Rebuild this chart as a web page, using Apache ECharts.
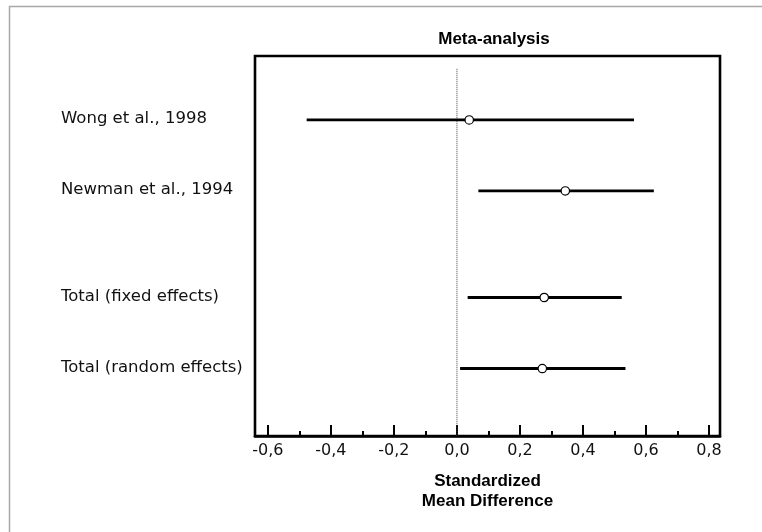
<!DOCTYPE html>
<html>
<head>
<meta charset="utf-8">
<title>Meta-analysis</title>
<script src="https://cdn.jsdelivr.net/npm/echarts@6/dist/echarts.min.js"></script>
<style>
  html, body { margin: 0; padding: 0; background: #fff; }
  #chart { width: 762px; height: 532px; }
</style>
</head>
<body>
<div id="chart"></div>
<script>
// Studies and pooled estimates (standardized mean difference with 95% CI)
const studyNames = ['Wong et al., 1998', 'Newman et al., 1994', 'Total (fixed effects)', 'Total (random effects)'];
const rowPositions = [1, 2, 3.5, 4.5];
const lowerCI = [-0.477, 0.068, 0.034, 0.010];
const estimates = [0.039, 0.344, 0.277, 0.271];
const upperCI = [0.562, 0.625, 0.523, 0.535];

// Axis ticks
const majorTicks = [-0.6, -0.4, -0.2, 0.0, 0.2, 0.4, 0.6, 0.8];
const minorTicks = [-0.5, -0.3, -0.1, 0.1, 0.3, 0.5, 0.7];

// Extent of the dotted no-effect line (row units)
const zeroLineSpan = [0.28, 5.45];

const xMin = -0.641, xMax = 0.835;
const yMin = 0.1, yMax = 5.45;

const rows = studyNames.map((name, i) => [rowPositions[i], lowerCI[i], estimates[i], upperCI[i], name]);

const chart = echarts.init(document.getElementById('chart'), null, { renderer: 'canvas' });

const fmt = v => v.toFixed(1).replace('.', ',');

chart.setOption({
  animation: false,
  backgroundColor: '#fff',
  title: {
    text: 'Meta-analysis',
    left: 489,
    top: 26,
    textAlign: 'center',
    textStyle: { fontFamily: 'Liberation Sans', fontWeight: 'bold', fontSize: 17, color: '#000' }
  },
  graphic: [{
    type: 'rect',
    shape: { x: 9.5, y: 6.5, width: 800, height: 600 },
    style: { fill: 'none', stroke: '#a8a8a8', lineWidth: 1.5 },
    silent: true,
    z: -10
  }],
  grid: {
    left: 255, right: 42, top: 56, bottom: 96,
    show: true, borderColor: '#000', borderWidth: 2.6, backgroundColor: 'transparent'
  },
  xAxis: [{
    type: 'value',
    min: xMin, max: xMax,
    position: 'bottom',
    axisLine: { show: true, onZero: false, lineStyle: { color: '#000', width: 2.6 } },
    axisTick: { show: true, inside: true, length: 11, customValues: majorTicks, lineStyle: { color: '#000', width: 2 } },
    axisLabel: {
      show: true, customValues: majorTicks, formatter: fmt, margin: 7,
      fontFamily: 'DejaVu Sans', fontSize: 16, color: '#111'
    },
    splitLine: { show: false },
    name: 'Standardized\nMean Difference',
    nameLocation: 'middle',
    nameGap: 35,
    nameTextStyle: { fontFamily: 'Liberation Sans', fontWeight: 'bold', fontSize: 17, color: '#000', lineHeight: 20 }
  }, {
    type: 'value',
    min: xMin, max: xMax,
    position: 'bottom',
    axisLine: { show: false },
    axisTick: { show: true, inside: true, length: 5, customValues: minorTicks, lineStyle: { color: '#000', width: 2 } },
    axisLabel: { show: false },
    splitLine: { show: false }
  }],
  yAxis: {
    type: 'value',
    inverse: true,
    min: yMin, max: yMax,
    axisLine: { show: false },
    axisTick: { show: false },
    axisLabel: { show: false },
    splitLine: { show: false }
  },
  series: [{
    type: 'line',
    data: [[0, zeroLineSpan[0]], [0, zeroLineSpan[1]]],
    symbol: 'none',
    lineStyle: { color: '#444', width: 1, type: [1, 1] },
    z: 1,
    silent: true
  }, {
    type: 'custom',
    clip: false,
    z: 5,
    data: rows,
    encode: { x: [1, 2, 3], y: 0 },
    renderItem: function (params, api) {
      const pos = api.value(0);
      const lo = api.coord([api.value(1), pos]);
      const est = api.coord([api.value(2), pos]);
      const hi = api.coord([api.value(3), pos]);
      const name = rows[params.dataIndex][4];
      return {
        type: 'group',
        children: [{
          type: 'line',
          shape: { x1: lo[0], y1: lo[1], x2: hi[0], y2: hi[1] },
          style: { stroke: '#000', lineWidth: 2.8 }
        }, {
          type: 'circle',
          shape: { cx: est[0], cy: est[1], r: 4.2 },
          style: { fill: '#fff', stroke: '#000', lineWidth: 1.2 }
        }, {
          type: 'text',
          style: {
            text: name,
            x: params.coordSys.x - 194,
            y: est[1] - 1,
            align: 'left',
            verticalAlign: 'middle',
            font: '16.5px "DejaVu Sans"',
            fill: '#111'
          }
        }]
      };
    }
  }]
});
</script>
</body>
</html>
